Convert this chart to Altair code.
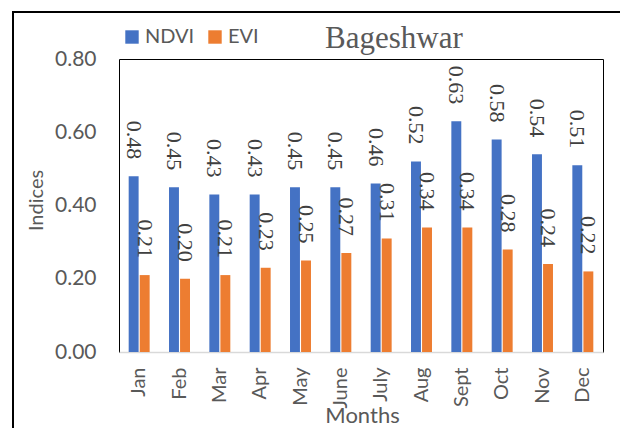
import altair as alt
import pandas as pd

months = ["Jan", "Feb", "Mar", "Apr", "May", "June", "July", "Aug", "Sept", "Oct", "Nov", "Dec"]
ndvi = [0.48, 0.45, 0.43, 0.43, 0.45, 0.45, 0.46, 0.52, 0.63, 0.58, 0.54, 0.51]
evi = [0.21, 0.20, 0.21, 0.23, 0.25, 0.27, 0.31, 0.34, 0.34, 0.28, 0.24, 0.22]
series = ["NDVI", "EVI"]
colors = ["#4472C4", "#ED7D31"]
y_ticks = [0.0, 0.2, 0.4, 0.6, 0.8]
chart_title = "Bageshwar"

rows = []
for m, a, b in zip(months, ndvi, evi):
    rows.append({"Month": m, "Index": "NDVI", "Value": a})
    rows.append({"Month": m, "Index": "EVI", "Value": b})
df = pd.DataFrame(rows)

gray = "#595959"

x_enc = alt.X(
    "Month:N", sort=months,
    scale=alt.Scale(paddingInner=0.48, paddingOuter=0.24),
    axis=alt.Axis(
        title="Months", labelAngle=-90, labelAlign="right", labelBaseline="middle",
        labelPadding=15, labelFontSize=20, labelColor=gray, labelFont="Lato",
        ticks=False, domainColor="#D9D9D9", domainWidth=1.5,
        titleFont="Lato", titleFontSize=22, titleColor=gray, titleFontWeight="normal",
        titleY=53, titleX=243,
    ),
)
y_enc = alt.Y(
    "Value:Q",
    scale=alt.Scale(domain=[0, 0.8], nice=False),
    axis=alt.Axis(
        values=y_ticks, format=".2f", title="Indices", grid=False, ticks=False,
        domain=False, labelPadding=23, labelFontSize=21, labelColor=gray, labelFont="Lato",
        titleFont="Lato", titleFontSize=20, titleColor=gray, titleFontWeight="normal",
        titleX=-83, titleY=141, titleBaseline="middle",
    ),
)
xoff = alt.XOffset("Index:N", sort=series, scale=alt.Scale(paddingInner=0.1))

base = alt.Chart(df)

bars = base.mark_bar().encode(
    x=x_enc, y=y_enc, xOffset=xoff,
    color=alt.Color(
        "Index:N", sort=series, scale=alt.Scale(domain=series, range=colors),
        legend=alt.Legend(
            title=None, orient="none", legendX=3, legendY=-32, direction="horizontal",
            symbolType="square", symbolSize=180, symbolStrokeWidth=0,
            labelFontSize=20, labelColor=gray, labelFont="Lato", columnPadding=10,
            labelOffset=3,
        ),
    ),
)

labels = base.mark_text(
    angle=90, align="right", baseline="middle", dx=-17,
    font="Liberation Serif", fontSize=22, color="#404040",
).encode(
    x=alt.X("Month:N", sort=months),
    y=alt.Y("Value:Q"),
    xOffset=xoff,
    text=alt.Text("Value:Q", format=".2f"),
)

one = alt.Chart(pd.DataFrame({"t": [chart_title]}))
title_text = one.mark_text(
    align="left", baseline="alphabetic", font="Liberation Serif", fontSize=31,
    color=gray, clip=False,
).encode(x=alt.value(206), y=alt.value(-11), text="t:N")

border_left = one.mark_rule(color="black", strokeWidth=2, clip=False).encode(
    x=alt.value(-106), y=alt.value(-47), y2=alt.value(400)
)
border_top = one.mark_rule(color="black", strokeWidth=2, clip=False).encode(
    x=alt.value(-107), x2=alt.value(520), y=alt.value(-47)
)

chart = alt.layer(bars, labels, title_text, border_left, border_top).properties(
    width=484, height=293,
    autosize=alt.AutoSizeParams(type="none"),
    padding={"left": 111, "top": 51, "right": 17, "bottom": 76},
).configure_view(stroke="black", strokeWidth=1)

chart.save("out.html", embed_options={"renderer": "svg", "actions": False})
